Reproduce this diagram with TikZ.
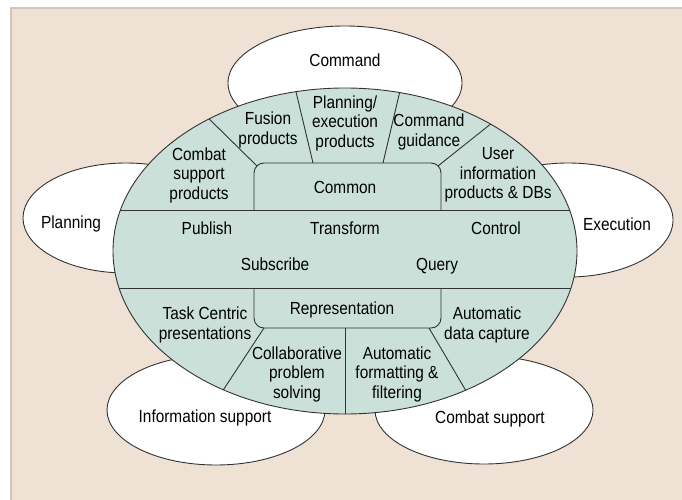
\documentclass[tikz,border=0pt]{standalone}
\usepackage{fontspec}
\setmainfont[FakeStretch=0.88]{Liberation Sans}
\definecolor{beige}{HTML}{EFE2D5}
\definecolor{mainfill}{HTML}{CAE0D9}
\definecolor{edge}{HTML}{333333}
\definecolor{panelborder}{HTML}{CFC6BD}
\begin{document}
\begin{tikzpicture}[x=1pt,y=-1pt,
  lbl/.style={font=\fontsize{17.5}{19.5}\selectfont, align=center, inner sep=0pt, text=black},
  line/.style={draw=edge, line width=0.9pt},
  outer/.style={draw=edge, line width=0.9pt, fill=white}]
\useasboundingbox (0,0) rectangle (682,500);
\fill[white] (0,0) rectangle (682,500);
\fill[beige] (10,8) rectangle (682,500);
\draw[panelborder, line width=2pt] (11,500) -- (11,8.5) -- (682,8.5);

% outer ellipses
\path[outer] (345,83) ellipse [x radius=117pt, y radius=57pt];
\path[outer] (126,218) ellipse [x radius=103pt, y radius=55pt];
\path[outer] (568,220) ellipse [x radius=105pt, y radius=57pt];
\path[outer] (216,410) ellipse [x radius=109pt, y radius=55pt];
\path[outer] (484,410) ellipse [x radius=109pt, y radius=54pt];

% main ellipse
\fill[mainfill] (345,251) ellipse [x radius=232pt, y radius=163pt];
\begin{scope}
  \clip (345,251) ellipse [x radius=232pt, y radius=163pt];
  \coordinate (hl1a) at (100,210); \coordinate (hl1b) at (600,210);
  \coordinate (hl2a) at (100,288); \coordinate (hl2b) at (600,288);
  \draw[line] (hl1a) -- (hl1b);
  \draw[line] (hl2a) -- (hl2b);
  % common box
  \draw[line, rounded corners=10pt] (254,210) -- (254,163) -- (441,163) -- (441,210);
  % representation box
  \draw[line, rounded corners=10pt] (254,288) -- (254,328) -- (441,328) -- (441,288);
  % dividers
  \coordinate (d1a) at (256.9,165.9); \coordinate (d1b) at (196,106);
  \coordinate (d2a) at (313,163);     \coordinate (d2b) at (292,75);
  \coordinate (d3a) at (383,163);     \coordinate (d3b) at (403,78);
  \coordinate (d4a) at (438.1,165.9); \coordinate (d4b) at (502,115);
  \coordinate (d5a) at (264,328);     \coordinate (d5b) at (216,401);
  \coordinate (d6a) at (345,328);     \coordinate (d6b) at (345,425);
  \coordinate (d7a) at (429,328);     \coordinate (d7b) at (472,401);
  \draw[line] (d1a) -- (d1b);
  \draw[line] (d2a) -- (d2b);
  \draw[line] (d3a) -- (d3b);
  \draw[line] (d4a) -- (d4b);
  \draw[line] (d5a) -- (d5b);
  \draw[line] (d6a) -- (d6b);
  \draw[line] (d7a) -- (d7b);
\end{scope}
\draw[line] (345,251) ellipse [x radius=232pt, y radius=163pt];

% outer labels
\node[lbl] (command) at (345,60) {Command};
\node[lbl] (planning) at (71,224) {Planning};
\node[lbl] (execution) at (617,224) {Execution};
\node[lbl] (infosup) at (205,418) {Information support};
\node[lbl] (combsup) at (490,419) {Combat support};

% inner labels
\node[lbl] (fusion) at (268,130) {Fusion\\products};
\node[lbl] (planexec) at (345,123) {Planning/\\execution\\products};
\node[lbl] (cmdguid) at (429,132) {Command\\guidance};
\node[lbl] (combprod) at (199,175) {Combat\\support\\products};
\node[lbl] (userinfo) at (498,175) {User\\information\\products \& DBs};
\node[lbl] (common) at (345,187) {Common};
\node[lbl] (publish) at (207,228) {Publish};
\node[lbl] (transform) at (345,228) {Transform};
\node[lbl] (control) at (496,228) {Control};
\node[lbl] (subscribe) at (275,264) {Subscribe};
\node[lbl] (query) at (437,266) {Query};
\node[lbl] (taskc) at (205,325) {Task Centric\\presentations};
\node[lbl] (repr) at (342,310) {Representation};
\node[lbl] (autodata) at (487,325) {Automatic\\data capture};
\node[lbl] (collab) at (297,374) {Collaborative\\problem\\solving};
\node[lbl] (autofmt) at (397,374) {Automatic\\formatting \&\\filtering};
\end{tikzpicture}
\end{document}
